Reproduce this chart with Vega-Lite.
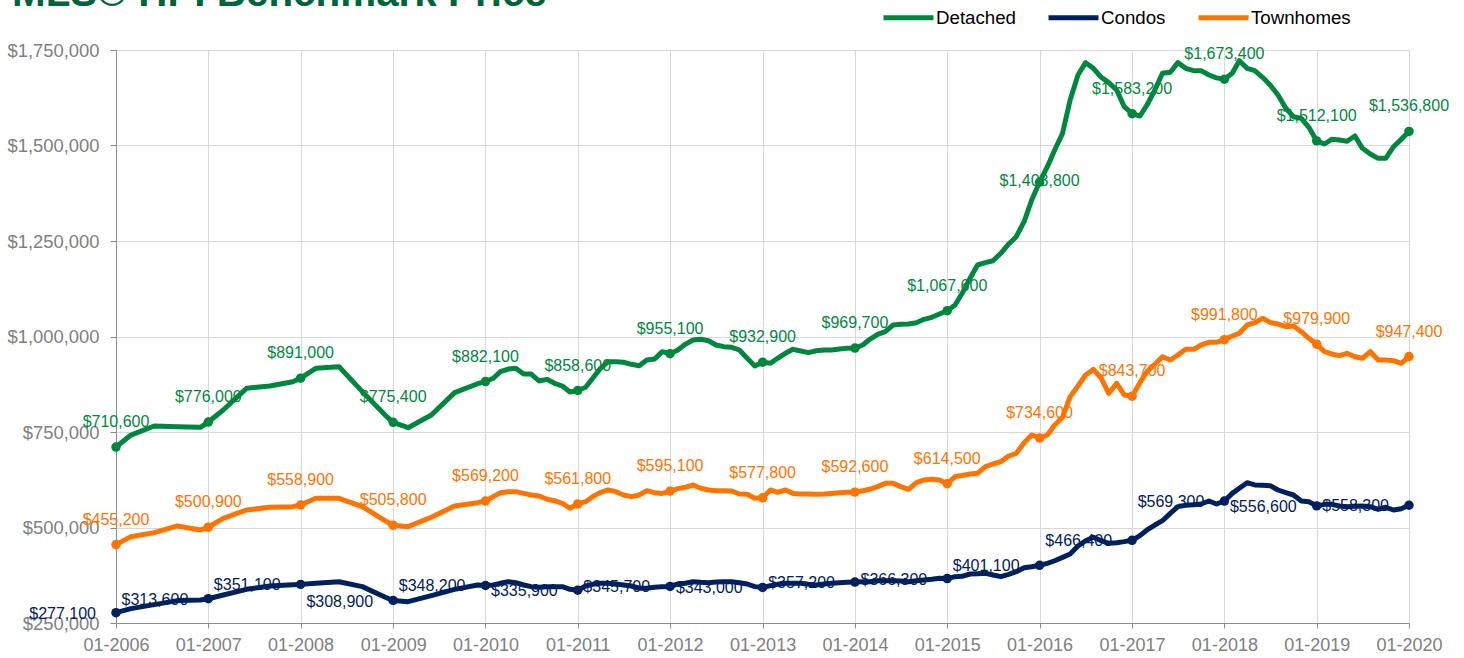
{
  "$schema": "https://vega.github.io/schema/vega-lite/v6.json",
  "width": 1293,
  "height": 573,
  "autosize": {"type": "none"},
  "padding": {"left": 116, "top": 50, "right": 55, "bottom": 35},
  "background": "#ffffff",
  "title": {
    "text": "MLS® HPI Benchmark Price",
    "anchor": "start",
    "frame": "group",
    "font": "Liberation Sans",
    "fontSize": 40.4,
    "fontWeight": "bold",
    "color": "#00643A",
    "dx": -104,
    "dy": 56,
    "baseline": "alphabetic",
    "offset": 0
  },
  "config": {
    "font": "Liberation Sans",
    "view": {"stroke": "#a6a6a6", "strokeWidth": 1}
  },
  "data": {
    "format": {"parse": {"date": "date"}},
    "values": [
      {"date":"2006/01/01","Detached":710600,"Condos":277100,"Townhomes":455200},
      {"date":"2006/03/01","Detached":742000,"Condos":287600,"Townhomes":476000},
      {"date":"2006/06/01","Detached":765700,"Condos":298100,"Townhomes":486500},
      {"date":"2006/09/01","Detached":763500,"Condos":308600,"Townhomes":504000},
      {"date":"2006/12/01","Detached":762300,"Condos":310200,"Townhomes":493500},
      {"date":"2007/01/01","Detached":776000,"Condos":313600,"Townhomes":500900},
      {"date":"2007/03/01","Detached":807600,"Condos":323300,"Townhomes":524100},
      {"date":"2007/06/01","Detached":864400,"Condos":338100,"Townhomes":545800},
      {"date":"2007/09/01","Detached":870400,"Condos":346900,"Townhomes":552800},
      {"date":"2007/12/01","Detached":881700,"Condos":350300,"Townhomes":554600},
      {"date":"2008/01/01","Detached":891000,"Condos":351100,"Townhomes":558900},
      {"date":"2008/03/01","Detached":916700,"Condos":353900,"Townhomes":576400},
      {"date":"2008/06/01","Detached":921000,"Condos":358100,"Townhomes":576400},
      {"date":"2008/09/01","Detached":855600,"Condos":345200,"Townhomes":554600},
      {"date":"2008/12/01","Detached":793700,"Condos":317500,"Townhomes":517300},
      {"date":"2009/01/01","Detached":775400,"Condos":308900,"Townhomes":505800},
      {"date":"2009/03/01","Detached":761300,"Condos":305900,"Townhomes":502200},
      {"date":"2009/06/01","Detached":794500,"Condos":321500,"Townhomes":526700},
      {"date":"2009/09/01","Detached":853000,"Condos":338100,"Townhomes":556300},
      {"date":"2009/12/01","Detached":876400,"Condos":349500,"Townhomes":565000},
      {"date":"2010/01/01","Detached":882100,"Condos":348200,"Townhomes":569200},
      {"date":"2010/02/01","Detached":890600,"Condos":349500,"Townhomes":580700},
      {"date":"2010/03/01","Detached":908000,"Condos":353900,"Townhomes":591100},
      {"date":"2010/04/01","Detached":914900,"Condos":358100,"Townhomes":593800},
      {"date":"2010/05/01","Detached":916700,"Condos":355600,"Townhomes":593800},
      {"date":"2010/06/01","Detached":901800,"Condos":349500,"Townhomes":589300},
      {"date":"2010/07/01","Detached":901800,"Condos":345200,"Townhomes":585100},
      {"date":"2010/08/01","Detached":883500,"Condos":343500,"Townhomes":582500},
      {"date":"2010/09/01","Detached":887900,"Condos":345200,"Townhomes":573800},
      {"date":"2010/10/01","Detached":877400,"Condos":345200,"Townhomes":570100},
      {"date":"2010/11/01","Detached":870400,"Condos":345200,"Townhomes":563400},
      {"date":"2010/12/01","Detached":854700,"Condos":338300,"Townhomes":550300},
      {"date":"2011/01/01","Detached":858600,"Condos":335900,"Townhomes":561800},
      {"date":"2011/02/01","Detached":867000,"Condos":346900,"Townhomes":567600},
      {"date":"2011/03/01","Detached":890600,"Condos":351200,"Townhomes":580700},
      {"date":"2011/04/01","Detached":916700,"Condos":353900,"Townhomes":592100},
      {"date":"2011/05/01","Detached":934000,"Condos":353900,"Townhomes":598200},
      {"date":"2011/06/01","Detached":934000,"Condos":352100,"Townhomes":593800},
      {"date":"2011/07/01","Detached":932500,"Condos":349500,"Townhomes":585100},
      {"date":"2011/08/01","Detached":927200,"Condos":346900,"Townhomes":580700},
      {"date":"2011/09/01","Detached":923600,"Condos":341000,"Townhomes":585100},
      {"date":"2011/10/01","Detached":938500,"Condos":341000,"Townhomes":596400},
      {"date":"2011/11/01","Detached":941100,"Condos":343500,"Townhomes":591100},
      {"date":"2011/12/01","Detached":960300,"Condos":345200,"Townhomes":589300},
      {"date":"2012/01/01","Detached":955100,"Condos":345700,"Townhomes":595100},
      {"date":"2012/02/01","Detached":964700,"Condos":352100,"Townhomes":601700},
      {"date":"2012/03/01","Detached":979500,"Condos":353900,"Townhomes":605300},
      {"date":"2012/04/01","Detached":990800,"Condos":358100,"Townhomes":611300},
      {"date":"2012/05/01","Detached":992600,"Condos":356400,"Townhomes":602600},
      {"date":"2012/06/01","Detached":989000,"Condos":355600,"Townhomes":598200},
      {"date":"2012/07/01","Detached":977800,"Condos":357300,"Townhomes":596400},
      {"date":"2012/08/01","Detached":973400,"Condos":358100,"Townhomes":596400},
      {"date":"2012/09/01","Detached":971700,"Condos":358100,"Townhomes":595600},
      {"date":"2012/10/01","Detached":964700,"Condos":355600,"Townhomes":587700},
      {"date":"2012/11/01","Detached":943000,"Condos":352100,"Townhomes":586900},
      {"date":"2012/12/01","Detached":922800,"Condos":345200,"Townhomes":576400},
      {"date":"2013/01/01","Detached":932900,"Condos":343000,"Townhomes":577800},
      {"date":"2013/02/01","Detached":929800,"Condos":347800,"Townhomes":598200},
      {"date":"2013/03/01","Detached":943000,"Condos":351200,"Townhomes":592100},
      {"date":"2013/04/01","Detached":956000,"Condos":353900,"Townhomes":598200},
      {"date":"2013/05/01","Detached":966400,"Condos":353900,"Townhomes":589300},
      {"date":"2013/06/01","Detached":962000,"Condos":353900,"Townhomes":587700},
      {"date":"2013/07/01","Detached":957700,"Condos":351200,"Townhomes":587700},
      {"date":"2013/08/01","Detached":962800,"Condos":349500,"Townhomes":586900},
      {"date":"2013/09/01","Detached":964700,"Condos":352100,"Townhomes":587700},
      {"date":"2013/10/01","Detached":964700,"Condos":353900,"Townhomes":589300},
      {"date":"2013/11/01","Detached":967300,"Condos":355600,"Townhomes":591100},
      {"date":"2013/12/01","Detached":969000,"Condos":356400,"Townhomes":592100},
      {"date":"2014/01/01","Detached":969700,"Condos":357200,"Townhomes":592600},
      {"date":"2014/02/01","Detached":977800,"Condos":358100,"Townhomes":596400},
      {"date":"2014/03/01","Detached":992600,"Condos":358100,"Townhomes":600000},
      {"date":"2014/04/01","Detached":1005600,"Condos":360800,"Townhomes":606900},
      {"date":"2014/05/01","Detached":1012600,"Condos":360800,"Townhomes":615600},
      {"date":"2014/06/01","Detached":1030100,"Condos":360800,"Townhomes":615600},
      {"date":"2014/07/01","Detached":1031800,"Condos":360000,"Townhomes":606900},
      {"date":"2014/08/01","Detached":1032700,"Condos":358100,"Townhomes":600000},
      {"date":"2014/09/01","Detached":1036100,"Condos":360800,"Townhomes":617400},
      {"date":"2014/10/01","Detached":1045000,"Condos":362600,"Townhomes":624300},
      {"date":"2014/11/01","Detached":1050200,"Condos":364300,"Townhomes":626100},
      {"date":"2014/12/01","Detached":1058900,"Condos":367000,"Townhomes":624300},
      {"date":"2015/01/01","Detached":1067600,"Condos":366300,"Townhomes":614500},
      {"date":"2015/02/01","Detached":1082500,"Condos":371300,"Townhomes":633300},
      {"date":"2015/03/01","Detached":1113100,"Condos":372300,"Townhomes":636000},
      {"date":"2015/04/01","Detached":1152400,"Condos":378300,"Townhomes":640100},
      {"date":"2015/05/01","Detached":1187200,"Condos":379100,"Townhomes":641800},
      {"date":"2015/06/01","Detached":1193200,"Condos":380100,"Townhomes":659200},
      {"date":"2015/07/01","Detached":1198400,"Condos":375600,"Townhomes":666200},
      {"date":"2015/08/01","Detached":1217800,"Condos":371300,"Townhomes":672300},
      {"date":"2015/09/01","Detached":1242200,"Condos":377500,"Townhomes":687200},
      {"date":"2015/10/01","Detached":1261300,"Condos":384300,"Townhomes":694200},
      {"date":"2015/11/01","Detached":1300500,"Condos":394800,"Townhomes":722000},
      {"date":"2015/12/01","Detached":1357300,"Condos":397400,"Townhomes":742100},
      {"date":"2016/01/01","Detached":1403800,"Condos":401100,"Townhomes":734600},
      {"date":"2016/02/01","Detached":1444600,"Condos":406200,"Townhomes":742100},
      {"date":"2016/03/01","Detached":1488200,"Condos":413000,"Townhomes":768300},
      {"date":"2016/04/01","Detached":1531900,"Condos":421900,"Townhomes":788500},
      {"date":"2016/05/01","Detached":1619100,"Condos":430600,"Townhomes":842400},
      {"date":"2016/06/01","Detached":1684600,"Condos":451600,"Townhomes":870400},
      {"date":"2016/07/01","Detached":1716800,"Condos":465500,"Townhomes":899200},
      {"date":"2016/08/01","Detached":1702000,"Condos":474300,"Townhomes":914000},
      {"date":"2016/09/01","Detached":1678500,"Condos":465500,"Townhomes":890600},
      {"date":"2016/10/01","Detached":1664500,"Condos":458600,"Townhomes":851300},
      {"date":"2016/11/01","Detached":1645300,"Condos":460300,"Townhomes":877400},
      {"date":"2016/12/01","Detached":1601600,"Condos":463000,"Townhomes":846900},
      {"date":"2017/01/01","Detached":1583200,"Condos":466400,"Townhomes":843700},
      {"date":"2017/02/01","Detached":1577200,"Condos":478600,"Townhomes":879100},
      {"date":"2017/03/01","Detached":1606000,"Condos":493500,"Townhomes":908000},
      {"date":"2017/04/01","Detached":1645300,"Condos":506500,"Townhomes":927200},
      {"date":"2017/05/01","Detached":1689000,"Condos":517800,"Townhomes":947100},
      {"date":"2017/06/01","Detached":1691600,"Condos":537100,"Townhomes":938500},
      {"date":"2017/07/01","Detached":1716900,"Condos":554600,"Townhomes":951600},
      {"date":"2017/08/01","Detached":1702000,"Condos":558100,"Townhomes":966400},
      {"date":"2017/09/01","Detached":1695900,"Condos":559700,"Townhomes":966400},
      {"date":"2017/10/01","Detached":1695900,"Condos":561600,"Townhomes":977800},
      {"date":"2017/11/01","Detached":1684600,"Condos":569400,"Townhomes":984800},
      {"date":"2017/12/01","Detached":1677000,"Condos":561600,"Townhomes":984800},
      {"date":"2018/01/01","Detached":1673400,"Condos":569300,"Townhomes":991800},
      {"date":"2018/02/01","Detached":1689000,"Condos":589300,"Townhomes":1001300},
      {"date":"2018/03/01","Detached":1722000,"Condos":602600,"Townhomes":1008300},
      {"date":"2018/04/01","Detached":1702000,"Condos":617400,"Townhomes":1030100},
      {"date":"2018/05/01","Detached":1695900,"Condos":611300,"Townhomes":1036100},
      {"date":"2018/06/01","Detached":1678500,"Condos":610400,"Townhomes":1047600},
      {"date":"2018/07/01","Detached":1658400,"Condos":609500,"Townhomes":1037000},
      {"date":"2018/08/01","Detached":1632200,"Condos":598200,"Townhomes":1032700},
      {"date":"2018/09/01","Detached":1597400,"Condos":591100,"Townhomes":1025700},
      {"date":"2018/10/01","Detached":1575400,"Condos":585100,"Townhomes":1027500},
      {"date":"2018/11/01","Detached":1571100,"Condos":569400,"Townhomes":1012600},
      {"date":"2018/12/01","Detached":1547600,"Condos":567600,"Townhomes":995300},
      {"date":"2019/01/01","Detached":1512100,"Condos":556600,"Townhomes":979900},
      {"date":"2019/02/01","Detached":1504000,"Condos":560600,"Townhomes":960300},
      {"date":"2019/03/01","Detached":1516100,"Condos":560600,"Townhomes":954200},
      {"date":"2019/04/01","Detached":1514400,"Condos":556300,"Townhomes":949800},
      {"date":"2019/05/01","Detached":1511000,"Condos":554600,"Townhomes":956000},
      {"date":"2019/06/01","Detached":1524900,"Condos":555500,"Townhomes":947100},
      {"date":"2019/07/01","Detached":1492600,"Condos":556300,"Townhomes":943000},
      {"date":"2019/08/01","Detached":1477800,"Condos":554600,"Townhomes":960300},
      {"date":"2019/09/01","Detached":1466400,"Condos":547700,"Townhomes":938500},
      {"date":"2019/10/01","Detached":1466400,"Condos":552900,"Townhomes":938500},
      {"date":"2019/11/01","Detached":1496900,"Condos":545800,"Townhomes":936700},
      {"date":"2019/12/01","Detached":1516100,"Condos":549200,"Townhomes":929800},
      {"date":"2020/01/01","Detached":1536800,"Condos":558300,"Townhomes":947400}
    ]
  },
  "transform": [
    {"fold": ["Detached", "Condos", "Townhomes"], "as": ["type", "price"]}
  ],
  "encoding": {
    "x": {
      "field": "date",
      "type": "temporal",
      "scale": {"domain": [{"year": 2006, "month": 1, "date": 1}, {"year": 2020, "month": 1, "date": 1}], "nice": false},
      "axis": {
        "title": null,
        "values": [
          {"year": 2006, "month": 1, "date": 1}, {"year": 2007, "month": 1, "date": 1},
          {"year": 2008, "month": 1, "date": 1}, {"year": 2009, "month": 1, "date": 1},
          {"year": 2010, "month": 1, "date": 1}, {"year": 2011, "month": 1, "date": 1},
          {"year": 2012, "month": 1, "date": 1}, {"year": 2013, "month": 1, "date": 1},
          {"year": 2014, "month": 1, "date": 1}, {"year": 2015, "month": 1, "date": 1},
          {"year": 2016, "month": 1, "date": 1}, {"year": 2017, "month": 1, "date": 1},
          {"year": 2018, "month": 1, "date": 1}, {"year": 2019, "month": 1, "date": 1},
          {"year": 2020, "month": 1, "date": 1}
        ],
        "format": "%m-%Y",
        "labelFontSize": 18,
        "labelColor": "#808080",
        "labelPadding": 8,
        "labelFlush": false,
        "labelOverlap": false,
        "tickSize": 5,
        "tickColor": "#8c8c8c",
        "domainColor": "#8c8c8c",
        "gridColor": "#d9d9d9",
        "grid": true
      }
    },
    "y": {
      "field": "price",
      "type": "quantitative",
      "scale": {"domain": [250000, 1750000], "nice": false, "zero": false},
      "axis": {
        "title": null,
        "values": [250000, 500000, 750000, 1000000, 1250000, 1500000, 1750000],
        "format": "$,.0f",
        "labelFontSize": 18.4,
        "labelColor": "#808080",
        "labelPadding": 11,
        "tickSize": 6,
        "tickColor": "#8c8c8c",
        "domainColor": "#8c8c8c",
        "gridColor": "#d9d9d9",
        "grid": true
      }
    },
    "color": {
      "field": "type",
      "type": "nominal",
      "scale": {"domain": ["Detached", "Condos", "Townhomes"], "range": ["#00873E", "#002060", "#FF7300"]},
      "legend": {
        "title": null,
        "orient": "none",
        "legendX": 765,
        "legendY": -60,
        "direction": "horizontal",
        "symbolType": "stroke",
        "symbolSize": 2500,
        "symbolStrokeWidth": 5,
        "labelFontSize": 18.7,
        "labelColor": "#000000",
        "labelOffset": 0,
        "columnPadding": 22
      }
    }
  },
  "layer": [
    {
      "transform": [
        {"filter": "month(datum.date) == 0 && datum.type != 'Condos' && !(datum.type == 'Detached' && year(datum.date) == 2016)"}
      ],
      "mark": {"type": "text", "fontSize": 16, "align": "center", "baseline": "middle", "dy": -25},
      "encoding": {"text": {"field": "price", "type": "quantitative", "format": "$,.0f"}}
    },
    {
      "transform": [
        {"filter": "month(datum.date) == 0 && datum.type == 'Detached' && year(datum.date) == 2016"}
      ],
      "mark": {"type": "text", "fontSize": 16, "align": "center", "baseline": "middle", "dy": -1},
      "encoding": {"text": {"field": "price", "type": "quantitative", "format": "$,.0f"}}
    },
    {
      "transform": [
        {"filter": "month(datum.date) == 0 && datum.type == 'Condos'"}
      ],
      "mark": {"type": "text", "fontSize": 16, "align": "right", "baseline": "middle", "dx": -20, "dy": 1},
      "encoding": {"text": {"field": "price", "type": "quantitative", "format": "$,.0f"}}
    },
    {
      "mark": {"type": "line", "strokeWidth": 5, "strokeJoin": "round", "strokeCap": "round"}
    },
    {
      "transform": [{"filter": "month(datum.date) == 0"}],
      "mark": {"type": "circle", "size": 90, "opacity": 1}
    }
  ]
}
